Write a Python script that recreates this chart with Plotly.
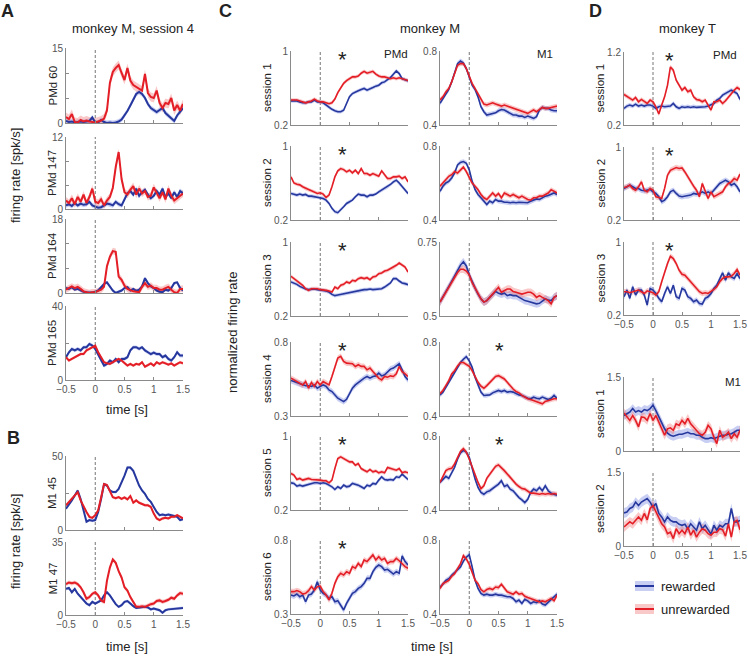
import plotly.graph_objects as go

W, H = 748, 656

# ---------------- time bins (s) ----------------
T = [-0.5, -0.45, -0.4, -0.35, -0.3, -0.25, -0.2, -0.15, -0.1, -0.05, 0.0, 0.05, 0.1, 0.15,
     0.2, 0.25, 0.3, 0.35, 0.4, 0.45, 0.5, 0.55, 0.6, 0.65, 0.7, 0.75, 0.8, 0.85, 0.9, 0.95,
     1.0, 1.05, 1.1, 1.15, 1.2, 1.25, 1.3, 1.35, 1.4, 1.45, 1.5]
X_TICKS = [-0.5, 0, 0.5, 1, 1.5]
X_TICK_TEXT = ["\u22120.5", "0", "0.5", "1", "1.5"]

# ---------------- Panel A: monkey M, session 4 (spk/s) ----------------
A_pmd60_rew = [0.4,0.2,0.3,0.1,0.2,0.3,0.2,0.3,0.4,1.1, 0.1,0.1,0.6,0.2,0.0,0.1,0.0,0.1,0.3,0.7,
               1.5,2.4,3.5,4.7,5.8,6.2,5.8,5.0,3.8,3.0, 2.6,2.2,2.6,3.0,2.0,1.4,1.0,0.4,1.5,2.2,3.0]
A_pmd60_unrew = [1.2,0.8,1.8,0.2,0.1,0.6,0.3,0.5,0.3,0.2, 0.1,0.3,0.5,0.9,2.5,8.0,10.2,11.0,11.6,10.0,
                 8.6,11.0,8.5,7.6,7.2,6.8,6.5,9.8,6.0,5.2, 5.0,6.5,4.0,3.0,4.0,3.8,5.0,2.5,3.6,2.5,3.8]
A_pmd147_rew = [0.6,0.8,0.5,1.0,0.6,0.9,0.7,0.8,1.2,0.6, 0.4,0.2,0.3,0.6,0.9,0.8,0.6,1.2,0.8,0.6,
                1.5,2.6,3.0,2.4,3.4,2.2,2.8,3.2,2.4,1.8, 2.2,3.0,2.4,3.4,2.0,2.6,1.8,2.8,2.0,3.0,2.6]
A_pmd147_unrew = [1.4,1.0,1.8,0.8,2.0,1.2,2.4,1.0,2.0,3.4, 1.2,1.0,1.6,0.6,1.4,2.0,3.5,7.0,9.5,5.0,
                  2.8,2.4,3.2,3.8,2.4,3.4,2.6,3.0,2.0,2.2, 3.6,2.6,1.8,2.8,1.6,3.4,2.2,1.4,1.8,2.2,2.6]
A_pmd164_rew = [1.2,1.0,1.4,0.8,1.0,0.6,0.3,0.2,0.2,0.1, 0.3,0.6,1.4,2.2,2.6,1.6,0.6,0.0,0.3,0.6,
                1.2,1.4,0.6,1.0,0.5,0.8,1.6,3.6,2.4,1.6, 1.2,0.6,0.3,0.2,0.8,0.6,1.2,2.4,2.6,1.2,0.6]
A_pmd164_unrew = [0.8,1.2,1.6,1.2,1.5,1.0,0.4,0.2,0.0,0.2, 0.2,0.5,0.8,1.5,6.5,8.8,10.2,10.0,4.0,3.2,
                  1.8,1.0,0.6,0.4,0.3,0.2,1.5,2.4,1.5,1.8, 1.2,1.2,0.8,0.8,1.2,1.5,0.8,0.2,0.0,1.0,1.0]
A_pmd165_rew = [12.3,15.0,16.8,16.0,16.8,16.0,17.7,17.7,19.5,18.6, 16.8,14.0,10.5,7.8,8.7,10.5,9.6,11.4,9.6,11.4,
                11.4,12.3,16.0,17.7,17.7,16.8,17.7,16.0,15.0,14.0, 14.8,14.0,14.0,12.3,13.2,11.4,10.5,12.3,15.0,13.2,13.2]
A_pmd165_unrew = [12.3,10.5,11.4,12.3,13.2,14.0,14.0,16.0,16.8,17.7, 18.6,15.0,12.3,9.6,9.0,8.7,9.6,10.5,11.4,10.5,
                  9.0,7.8,8.7,7.8,8.7,8.3,9.6,7.2,8.1,9.0, 7.8,9.6,8.7,9.6,9.0,8.3,9.0,7.8,8.7,9.6,9.0]

# ---------------- Panel B: M1 units (spk/s) ----------------
B_m145_rew = [14.4,17.0,20.0,23.3,26.7,21.0,13.3,5.6,6.7,6.2, 6.7,12.2,21.0,31.0,30.0,26.7,25.6,25.6,27.8,32.0,
              36.7,42.2,42.2,40.0,34.4,30.0,26.7,24.4,21.0,19.0, 15.6,12.2,10.0,10.4,10.0,10.4,10.0,9.6,8.9,6.7,7.3]
B_m145_unrew = [16.7,18.9,21.0,23.3,25.6,20.0,15.6,12.2,8.9,8.2, 10.0,13.3,22.0,31.0,30.4,26.7,22.2,21.5,22.2,21.0,
                22.0,20.7,22.9,18.4,20.0,18.4,17.8,16.7,16.7,15.6, 11.1,7.8,6.7,7.8,8.2,7.8,8.9,8.9,10.0,8.9,7.8]
B_m147_rew = [12.5,13.0,10.9,12.5,10.2,8.6,7.0,5.5,4.7,6.3, 5.5,6.3,7.0,9.4,10.9,9.4,7.0,5.2,3.9,4.7,
              6.3,6.7,5.5,4.2,3.4,3.6,3.6,3.9,3.6,2.7, 3.1,2.7,2.3,1.1,2.3,2.7,2.8,3.0,3.1,3.3,3.4]
B_m147_unrew = [14.8,15.6,15.2,15.6,14.8,13.3,10.9,7.8,8.6,10.2, 10.9,9.4,7.0,6.3,16.4,22.7,26.6,25.0,21.0,18.0,
                13.3,11.7,8.6,6.3,3.9,3.9,4.2,3.9,4.7,5.2, 5.5,6.7,7.0,6.3,6.7,7.3,8.3,7.8,9.4,10.5,10.2]

# ---------------- Panel C: monkey M, normalized ----------------
C_pmd_s1_rew = [0.46,0.46,0.46,0.45,0.44,0.44,0.45,0.45,0.47,0.45, 0.45,0.44,0.415,0.39,0.37,0.354,0.343,0.343,0.36,0.433,
                0.505,0.54,0.559,0.57,0.584,0.595,0.577,0.595,0.605,0.62, 0.63,0.656,0.666,0.69,0.713,0.749,0.785,0.756,0.70,0.69,0.677]
C_pmd_s1_unrew = [0.47,0.47,0.47,0.46,0.45,0.44,0.45,0.46,0.48,0.46, 0.45,0.45,0.44,0.43,0.44,0.48,0.55,0.60,0.65,0.68,
                  0.70,0.72,0.72,0.73,0.76,0.78,0.76,0.77,0.78,0.75, 0.73,0.72,0.72,0.71,0.70,0.71,0.70,0.71,0.70,0.69,0.68]
C_pmd_s2_rew = [0.487,0.48,0.469,0.48,0.469,0.476,0.458,0.458,0.451,0.451, 0.444,0.433,0.415,0.379,0.326,0.29,0.279,0.308,0.343,0.379,
                0.397,0.415,0.451,0.48,0.469,0.469,0.451,0.469,0.469,0.48, 0.505,0.523,0.541,0.559,0.584,0.613,0.631,0.60,0.559,0.523,0.487]
C_pmd_s2_unrew = [0.666,0.60,0.587,0.58,0.559,0.54,0.53,0.516,0.505,0.487, 0.494,0.48,0.444,0.469,0.559,0.666,0.731,0.756,0.745,0.72,
                  0.738,0.71,0.738,0.702,0.756,0.702,0.702,0.684,0.702,0.684, 0.674,0.731,0.684,0.648,0.648,0.666,0.666,0.674,0.648,0.666,0.613]
C_pmd_s3_rew = [0.568,0.557,0.542,0.52,0.503,0.492,0.485,0.488,0.492,0.485, 0.485,0.477,0.47,0.459,0.434,0.42,0.427,0.434,0.441,0.449,
                0.452,0.459,0.463,0.47,0.477,0.485,0.485,0.492,0.485,0.488, 0.492,0.495,0.513,0.532,0.557,0.604,0.604,0.578,0.557,0.55,0.539]
C_pmd_s3_unrew = [0.629,0.604,0.586,0.557,0.532,0.495,0.477,0.495,0.495,0.495, 0.485,0.485,0.477,0.47,0.459,0.513,0.495,0.532,0.542,0.568,
                  0.557,0.586,0.578,0.604,0.614,0.604,0.614,0.593,0.622,0.629, 0.658,0.665,0.686,0.694,0.712,0.722,0.748,0.773,0.748,0.73,0.676]
C_pmd_s4_rew = [0.54,0.533,0.522,0.517,0.51,0.504,0.504,0.5,0.51,0.488, 0.5,0.51,0.5,0.476,0.465,0.443,0.42,0.409,0.397,0.413,
                0.454,0.488,0.51,0.526,0.544,0.556,0.567,0.556,0.567,0.571, 0.59,0.571,0.578,0.6,0.617,0.624,0.64,0.653,0.612,0.567,0.544]
C_pmd_s4_unrew = [0.556,0.544,0.533,0.522,0.51,0.533,0.488,0.526,0.5,0.533, 0.51,0.533,0.522,0.51,0.567,0.635,0.691,0.703,0.669,0.657,
                  0.657,0.653,0.635,0.646,0.635,0.635,0.612,0.624,0.6,0.578, 0.556,0.544,0.567,0.562,0.571,0.567,0.585,0.635,0.6,0.585,0.567]
C_pmd_s5_rew = [0.494,0.487,0.458,0.469,0.458,0.469,0.48,0.487,0.494,0.494, 0.487,0.494,0.487,0.469,0.451,0.422,0.451,0.433,0.469,0.451,
                0.458,0.487,0.48,0.469,0.451,0.433,0.469,0.458,0.487,0.48, 0.523,0.559,0.53,0.523,0.53,0.523,0.559,0.552,0.587,0.559,0.53]
C_pmd_s5_unrew = [0.595,0.577,0.53,0.541,0.523,0.53,0.541,0.53,0.53,0.523, 0.523,0.516,0.516,0.494,0.523,0.648,0.756,0.774,0.756,0.738,
                  0.72,0.72,0.684,0.702,0.648,0.63,0.613,0.638,0.613,0.623, 0.602,0.613,0.602,0.659,0.648,0.638,0.63,0.648,0.602,0.613,0.602]
C_pmd_s6_rew = [0.428,0.422,0.435,0.417,0.428,0.383,0.428,0.435,0.462,0.518, 0.462,0.44,0.428,0.406,0.417,0.383,0.39,0.361,0.327,0.372,
                0.406,0.44,0.451,0.473,0.485,0.507,0.541,0.541,0.586,0.615, 0.631,0.62,0.597,0.602,0.586,0.57,0.586,0.575,0.692,0.654,0.631]
C_pmd_s6_unrew = [0.451,0.451,0.458,0.451,0.435,0.44,0.458,0.485,0.462,0.485, 0.489,0.451,0.428,0.395,0.44,0.507,0.552,0.575,0.563,0.586,
                  0.575,0.62,0.609,0.642,0.62,0.665,0.654,0.676,0.699,0.665, 0.687,0.665,0.676,0.642,0.654,0.654,0.676,0.66,0.642,0.62,0.609]

C_m1_s1_rew = [0.517,0.543,0.57,0.592,0.633,0.687,0.732,0.746,0.735,0.705, 0.66,0.615,0.592,0.552,0.499,0.472,0.454,0.459,0.463,0.466,
               0.477,0.484,0.481,0.472,0.463,0.454,0.454,0.448,0.448,0.441, 0.448,0.441,0.436,0.445,0.481,0.495,0.49,0.49,0.481,0.477,0.477]
C_m1_s1_unrew = [0.535,0.552,0.579,0.597,0.633,0.678,0.723,0.732,0.732,0.705, 0.66,0.624,0.597,0.57,0.535,0.513,0.508,0.513,0.52,0.513,
                 0.508,0.502,0.508,0.502,0.495,0.49,0.484,0.481,0.472,0.466, 0.463,0.472,0.481,0.472,0.484,0.495,0.49,0.49,0.495,0.499,0.502]
C_m1_s2_rew = [0.555,0.582,0.6,0.609,0.627,0.654,0.698,0.711,0.716,0.707, 0.671,0.609,0.564,0.538,0.52,0.502,0.484,0.502,0.493,0.511,
               0.502,0.502,0.496,0.496,0.493,0.496,0.493,0.496,0.496,0.493, 0.493,0.502,0.507,0.514,0.511,0.52,0.529,0.532,0.538,0.546,0.538]
C_m1_s2_unrew = [0.582,0.6,0.618,0.636,0.645,0.662,0.654,0.671,0.686,0.662, 0.627,0.6,0.582,0.564,0.538,0.52,0.511,0.529,0.546,0.529,
                 0.543,0.52,0.546,0.538,0.529,0.538,0.529,0.52,0.529,0.52, 0.511,0.507,0.52,0.52,0.529,0.529,0.538,0.546,0.564,0.555,0.546]
C_m1_s3_rew = [0.547,0.563,0.58,0.599,0.617,0.636,0.654,0.672,0.683,0.669, 0.639,0.613,0.594,0.574,0.558,0.547,0.552,0.563,0.574,0.583,
               0.577,0.574,0.577,0.569,0.572,0.569,0.569,0.563,0.558,0.552, 0.55,0.547,0.543,0.541,0.543,0.552,0.558,0.554,0.552,0.563,0.569]
C_m1_s3_unrew = [0.547,0.563,0.58,0.597,0.613,0.63,0.647,0.658,0.658,0.652, 0.639,0.613,0.594,0.574,0.558,0.547,0.552,0.563,0.574,0.588,
                 0.597,0.58,0.586,0.591,0.591,0.583,0.58,0.577,0.574,0.577, 0.58,0.58,0.574,0.563,0.569,0.563,0.558,0.552,0.541,0.563,0.569]
C_m1_s4_rew = [0.514,0.529,0.555,0.582,0.609,0.636,0.663,0.689,0.707,0.721, 0.698,0.663,0.609,0.564,0.529,0.511,0.511,0.514,0.525,0.532,
               0.538,0.532,0.538,0.529,0.532,0.529,0.52,0.514,0.511,0.502, 0.496,0.493,0.502,0.496,0.493,0.502,0.496,0.489,0.496,0.511,0.496]
C_m1_s4_unrew = [0.52,0.538,0.564,0.591,0.627,0.645,0.671,0.689,0.689,0.68, 0.668,0.645,0.609,0.582,0.561,0.55,0.564,0.582,0.596,0.614,
                 0.618,0.609,0.6,0.582,0.561,0.546,0.532,0.525,0.511,0.502, 0.493,0.489,0.484,0.479,0.471,0.466,0.479,0.484,0.489,0.493,0.493]
C_m1_s5_rew = [0.549,0.567,0.582,0.571,0.604,0.631,0.676,0.709,0.722,0.713, 0.685,0.622,0.567,0.522,0.495,0.485,0.498,0.504,0.516,0.531,
               0.54,0.558,0.527,0.535,0.513,0.504,0.485,0.467,0.455,0.44, 0.458,0.495,0.513,0.504,0.522,0.504,0.531,0.504,0.491,0.485,0.48]
C_m1_s5_unrew = [0.549,0.582,0.613,0.622,0.625,0.649,0.685,0.716,0.731,0.713, 0.676,0.631,0.585,0.549,0.516,0.531,0.571,0.595,0.613,0.636,
                 0.644,0.631,0.613,0.595,0.576,0.558,0.54,0.527,0.516,0.513, 0.504,0.491,0.491,0.489,0.485,0.489,0.485,0.489,0.485,0.489,0.485]
C_m1_s6_rew = [0.546,0.561,0.582,0.591,0.609,0.627,0.639,0.654,0.686,0.707, 0.721,0.654,0.582,0.538,0.511,0.502,0.507,0.502,0.502,0.507,
               0.502,0.502,0.496,0.493,0.493,0.484,0.466,0.475,0.457,0.479, 0.471,0.457,0.466,0.461,0.471,0.454,0.448,0.466,0.479,0.493,0.507]
C_m1_s6_unrew = [0.538,0.564,0.573,0.582,0.604,0.618,0.645,0.671,0.716,0.698, 0.668,0.627,0.582,0.564,0.532,0.52,0.532,0.538,0.532,0.546,
                 0.543,0.561,0.538,0.52,0.514,0.507,0.52,0.507,0.511,0.496, 0.489,0.484,0.475,0.471,0.466,0.471,0.466,0.475,0.484,0.471,0.502]

# ---------------- Panel D: monkey T, normalized ----------------
D_pmd_s1_rew = [0.427,0.459,0.473,0.459,0.486,0.459,0.473,0.459,0.473,0.473, 0.459,0.427,0.45,0.459,0.45,0.459,0.459,0.495,0.45,0.427,
                0.45,0.441,0.45,0.441,0.45,0.441,0.441,0.45,0.45,0.459, 0.473,0.495,0.541,0.564,0.609,0.632,0.655,0.677,0.655,0.632,0.55]
D_pmd_s1_unrew = [0.618,0.595,0.564,0.541,0.577,0.518,0.55,0.518,0.495,0.541, 0.518,0.45,0.35,0.473,0.586,0.745,0.995,0.95,0.814,0.745,
                  0.677,0.714,0.655,0.677,0.586,0.55,0.541,0.518,0.541,0.473, 0.405,0.518,0.518,0.541,0.495,0.532,0.586,0.623,0.677,0.714,0.686]
D_pmd_s2_rew = [0.545,0.564,0.582,0.564,0.545,0.545,0.527,0.52,0.527,0.535, 0.509,0.491,0.455,0.4,0.418,0.455,0.509,0.527,0.491,0.462,
                0.455,0.462,0.462,0.473,0.491,0.484,0.491,0.509,0.491,0.509, 0.491,0.527,0.564,0.6,0.618,0.636,0.618,0.582,0.6,0.564,0.509]
D_pmd_s2_unrew = [0.556,0.564,0.582,0.545,0.527,0.564,0.618,0.527,0.509,0.545, 0.527,0.455,0.447,0.436,0.545,0.691,0.745,0.764,0.775,0.764,
                  0.771,0.727,0.673,0.618,0.571,0.527,0.455,0.6,0.509,0.436, 0.509,0.455,0.473,0.491,0.509,0.564,0.6,0.618,0.655,0.636,0.702]
D_pmd_s3_rew = [0.4,0.473,0.382,0.509,0.418,0.473,0.473,0.418,0.309,0.491, 0.473,0.436,0.382,0.345,0.436,0.509,0.436,0.527,0.4,0.382,
                0.491,0.473,0.4,0.382,0.345,0.364,0.327,0.32,0.382,0.4, 0.436,0.491,0.527,0.6,0.662,0.582,0.662,0.618,0.6,0.655,0.6]
D_pmd_s3_unrew = [0.455,0.455,0.444,0.455,0.465,0.473,0.455,0.436,0.465,0.455, 0.444,0.418,0.455,0.564,0.673,0.764,0.844,0.818,0.764,0.691,
                  0.647,0.636,0.6,0.564,0.527,0.491,0.455,0.436,0.444,0.436, 0.455,0.48,0.509,0.564,0.6,0.618,0.618,0.625,0.655,0.698,0.636]
D_m1_s1_rew = [0.72,0.76,0.79,0.86,0.79,0.82,0.79,0.84,0.82,0.86, 0.93,0.82,0.69,0.59,0.45,0.36,0.32,0.30,0.32,0.34,
               0.34,0.36,0.38,0.35,0.35,0.32,0.32,0.28,0.25,0.25, 0.27,0.25,0.28,0.30,0.32,0.32,0.34,0.35,0.38,0.42,0.42]
D_m1_s1_unrew = [0.77,0.69,0.62,0.72,0.62,0.49,0.69,0.68,0.62,0.76, 0.62,0.72,0.59,0.45,0.32,0.45,0.47,0.42,0.55,0.52,
                 0.62,0.55,0.66,0.55,0.49,0.42,0.35,0.32,0.38,0.52, 0.45,0.28,0.15,0.42,0.28,0.32,0.38,0.25,0.35,0.28,0.42]
D_m1_s2_rew = [0.67,0.69,0.76,0.79,0.89,0.82,0.89,0.93,0.96,0.89, 0.79,0.86,0.66,0.59,0.49,0.59,0.52,0.49,0.49,0.44,
               0.42,0.44,0.35,0.45,0.38,0.32,0.49,0.35,0.42,0.32, 0.24,0.42,0.32,0.42,0.385,0.45,0.45,0.76,0.49,0.49,0.52]
D_m1_s2_unrew = [0.385,0.44,0.49,0.45,0.53,0.59,0.52,0.66,0.53,0.76, 0.82,0.69,0.55,0.45,0.385,0.25,0.28,0.15,0.35,0.25,
                 0.32,0.25,0.385,0.22,0.32,0.18,0.28,0.35,0.32,0.25, 0.22,0.28,0.28,0.35,0.33,0.2,0.45,0.18,0.49,0.52,0.33]

# ---------------- styling ----------------
BLUE = "rgb(38,56,158)"
RED = "rgb(228,30,38)"
BLUE_BAND = "rgba(120,135,225,0.40)"
RED_BAND = "rgba(240,110,110,0.38)"
AXC = "#8a8a8a"
TXT = "#222222"
TICKC = "#555555"
FONT = "Liberation Sans, Arial, sans-serif"
TICK_SIZE = 10

# panel layout (pixel boxes) + which data each one shows
panels = [
    # panel A
    dict(xp=(66, 183), yp=(48, 123), yr=(0, 15), yt=[0, 5, 10, 15], lab="PMd 60", lx=52,
         b=A_pmd60_rew, r=A_pmd60_unrew, sb=0.5, sr=0.9, xl=False, lw=2),
    dict(xp=(66, 183), yp=(137, 209), yr=(0, 12), yt=[0, 4, 8, 12], lab="PMd 147", lx=52,
         b=A_pmd147_rew, r=A_pmd147_unrew, sb=0.4, sr=0.6, xl=False, lw=2),
    dict(xp=(66, 183), yp=(219, 293), yr=(0, 18), yt=[0, 6, 12, 18], lab="PMd 164", lx=52,
         b=A_pmd164_rew, r=A_pmd164_unrew, sb=0.4, sr=0.8, xl=False, lw=2),
    dict(xp=(66, 183), yp=(306, 380), yr=(0, 40), yt=[0, 20, 40], lab="PMd 165", lx=52,
         b=A_pmd165_rew, r=A_pmd165_unrew, sb=1.0, sr=0.8, xl=True, lw=2),
    # panel B
    dict(xp=(66, 183), yp=(456, 530), yr=(0, 50), yt=[0, 25, 50], lab="M1 45", lx=52,
         b=B_m145_rew, r=B_m145_unrew, sb=1.0, sr=1.0, xl=False, lw=2),
    dict(xp=(66, 183), yp=(542, 615), yr=(0, 35), yt=[0, 35], lab="M1 47", lx=52,
         b=B_m147_rew, r=B_m147_unrew, sb=0.7, sr=1.0, xl=True, lw=2),
]
C_rows = [(51, 125), (146, 220), (242, 316), (342, 416), (436, 510), (540, 614)]
C_pmd = [(C_pmd_s1_rew, C_pmd_s1_unrew, (0.2, 1)), (C_pmd_s2_rew, C_pmd_s2_unrew, (0.2, 1)),
         (C_pmd_s3_rew, C_pmd_s3_unrew, (0.2, 1)), (C_pmd_s4_rew, C_pmd_s4_unrew, (0.3, 0.8)),
         (C_pmd_s5_rew, C_pmd_s5_unrew, (0.2, 1)), (C_pmd_s6_rew, C_pmd_s6_unrew, (0.3, 0.8))]
C_m1 = [(C_m1_s1_rew, C_m1_s1_unrew, (0.4, 0.8)), (C_m1_s2_rew, C_m1_s2_unrew, (0.4, 0.8)),
        (C_m1_s3_rew, C_m1_s3_unrew, (0.5, 0.75)), (C_m1_s4_rew, C_m1_s4_unrew, (0.4, 0.8)),
        (C_m1_s5_rew, C_m1_s5_unrew, (0.4, 0.8)), (C_m1_s6_rew, C_m1_s6_unrew, (0.4, 0.8))]
C_m1_star = [None, None, None, 0.51, 0.51, None]
for k in range(6):
    b, r, yr = C_pmd[k]
    panels.append(dict(xp=(291, 408), yp=C_rows[k], yr=yr, yt=list(yr), lab="session %d" % (k + 1), lx=267,
                       b=b, r=r, sb=0.02, sr=0.02, xl=(k == 5), lw=1.6, star=0.38))
    b, r, yr = C_m1[k]
    panels.append(dict(xp=(440, 557), yp=C_rows[k], yr=yr, yt=list(yr), lab=None, lx=None,
                       b=b, r=r, sb=0.013, sr=0.013, xl=(k == 5), lw=1.6, star=C_m1_star[k]))
D_specs = [((52, 125), (0.2, 1.2), "session 1", D_pmd_s1_rew, D_pmd_s1_unrew, 0.03, False, 0.29),
           ((147, 220), (0.2, 1), "session 2", D_pmd_s2_rew, D_pmd_s2_unrew, 0.03, False, 0.29),
           ((242, 315), (0.2, 1), "session 3", D_pmd_s3_rew, D_pmd_s3_unrew, 0.03, True, 0.29),
           ((377, 451), (0, 1.5), "session 1", D_m1_s1_rew, D_m1_s1_unrew, 0.09, False, None),
           ((472, 546), (0, 1.5), "session 2", D_m1_s2_rew, D_m1_s2_unrew, 0.1, True, None)]
for yp, yr, lab, b, r, s, xl, star in D_specs:
    panels.append(dict(xp=(624, 740), yp=yp, yr=yr, yt=list(yr), lab=lab, lx=600,
                       b=b, r=r, sb=s, sr=s, xl=xl, lw=1.6, star=star))

for p in panels:
    assert len(p["b"]) == len(T) and len(p["r"]) == len(T)


def fx(px):
    return px / W


def fy(py):
    return 1 - py / H


fig = go.Figure()
annotations = []
shapes = []
layout = {}


def band(vals, s):
    up = [v + s for v in vals]
    lo = [v - s for v in vals]
    return T + T[::-1], up + lo[::-1]


for i, p in enumerate(panels, start=1):
    xa = "x" if i == 1 else "x%d" % i
    ya = "y" if i == 1 else "y%d" % i
    bx, by = band(p["b"], p["sb"])
    rx, ry = band(p["r"], p["sr"])
    fig.add_trace(go.Scatter(x=bx, y=by, fill="toself", fillcolor=BLUE_BAND, line=dict(width=0),
                             mode="lines", hoverinfo="skip", showlegend=False, xaxis=xa, yaxis=ya))
    fig.add_trace(go.Scatter(x=rx, y=ry, fill="toself", fillcolor=RED_BAND, line=dict(width=0),
                             mode="lines", hoverinfo="skip", showlegend=False, xaxis=xa, yaxis=ya))
    fig.add_trace(go.Scatter(x=T, y=p["b"], mode="lines", line=dict(color=BLUE, width=p["lw"]),
                             showlegend=False, xaxis=xa, yaxis=ya))
    fig.add_trace(go.Scatter(x=T, y=p["r"], mode="lines", line=dict(color=RED, width=p["lw"]),
                             showlegend=False, xaxis=xa, yaxis=ya))

    xkey = "xaxis" if i == 1 else "xaxis%d" % i
    ykey = "yaxis" if i == 1 else "yaxis%d" % i
    ymin, ymax = p["yr"]
    layout[xkey] = dict(domain=[fx(p["xp"][0]), fx(p["xp"][1])], anchor=ya, range=[-0.5, 1.5],
                        automargin=False,
                        showgrid=False, zeroline=False, showline=True, linecolor=AXC, linewidth=1,
                        ticks="inside", ticklen=3, tickcolor=AXC, tickvals=X_TICKS,
                        ticktext=X_TICK_TEXT if p["xl"] else [""] * 5,
                        tickfont=dict(size=TICK_SIZE, color=TICKC, family=FONT), fixedrange=True)
    layout[ykey] = dict(domain=[fy(p["yp"][1]), fy(p["yp"][0])], anchor=xa, range=[ymin, ymax],
                        automargin=False,
                        showgrid=False, zeroline=False, showline=True, linecolor=AXC, linewidth=1,
                        ticks="inside", ticklen=3, tickcolor=AXC, tickvals=p["yt"],
                        ticktext=[("%g" % v) if v in (ymin, ymax) else "" for v in p["yt"]],
                        tickfont=dict(size=TICK_SIZE, color=TICKC, family=FONT), fixedrange=True)
    shapes.append(dict(type="line", xref=xa, yref=ya + " domain", x0=0, x1=0, y0=0, y1=1,
                       line=dict(color="#777777", width=1, dash="3px,2px"), layer="below"))
    if p.get("lab"):
        annotations.append(dict(text=p["lab"], x=fx(p["lx"]), y=fy((p["yp"][0] + p["yp"][1]) / 2),
                                xref="paper", yref="paper", textangle=-90, showarrow=False,
                                xanchor="center", yanchor="middle",
                                font=dict(size=11.5, color=TXT, family=FONT)))
    if p.get("star") is not None:
        annotations.append(dict(text="*", x=p["star"], y=0.88, xref=xa, yref=ya + " domain",
                                showarrow=False, xanchor="center", yanchor="middle",
                                font=dict(size=22, color=TXT, family=FONT)))


def txt(s, x, y, size=13, bold=False, angle=0, xanchor="center"):
    annotations.append(dict(text=("<b>%s</b>" % s) if bold else s, x=fx(x), y=fy(y), xref="paper",
                            yref="paper", showarrow=False, xanchor=xanchor, yanchor="middle",
                            textangle=angle, font=dict(size=size, color=TXT, family=FONT)))


# panel letters and titles
txt("A", 8, 11, size=18, bold=True)
txt("B", 13, 438, size=18, bold=True)
txt("C", 225, 11, size=18, bold=True)
txt("D", 595, 11, size=18, bold=True)
txt("monkey M, session 4", 133, 29)
txt("monkey M", 430, 29)
txt("monkey T", 687, 29)
txt("time [s]", 127, 409)
txt("time [s]", 127, 646)
txt("time [s]", 432, 646)
txt("firing rate [spk/s]", 15, 176, angle=-90)
txt("firing rate [spk/s]", 15, 542, angle=-90)
txt("normalized firing rate", 233, 333, angle=-90)
txt("PMd", 396, 54, size=11.5)
txt("M1", 545, 54, size=11.5)
txt("PMd", 725, 55, size=11.5)
txt("M1", 733, 382, size=11.5)

# legend (drawn manually)
for yc, line_c, band_c, lab in [(586, BLUE, BLUE_BAND, "rewarded"), (609, RED, RED_BAND, "unrewarded")]:
    shapes.append(dict(type="rect", xref="paper", yref="paper", x0=fx(635), x1=fx(654),
                       y0=fy(yc + 5), y1=fy(yc - 5), fillcolor=band_c, line=dict(width=0)))
    shapes.append(dict(type="line", xref="paper", yref="paper", x0=fx(635), x1=fx(654),
                       y0=fy(yc), y1=fy(yc), line=dict(color=line_c, width=2)))
    txt(lab, 659, yc, size=13, xanchor="left")

fig.update_layout(width=W, height=H, margin=dict(l=0, r=0, t=0, b=0, autoexpand=False),
                  plot_bgcolor="white", paper_bgcolor="white", showlegend=False,
                  annotations=annotations, shapes=shapes, font=dict(family=FONT), **layout)
fig.write_html("out.html", config={"displayModeBar": False, "staticPlot": True},
               post_script="document.body.style.margin='0';document.body.style.overflow='hidden';"
                           "document.documentElement.style.overflow='hidden';")
